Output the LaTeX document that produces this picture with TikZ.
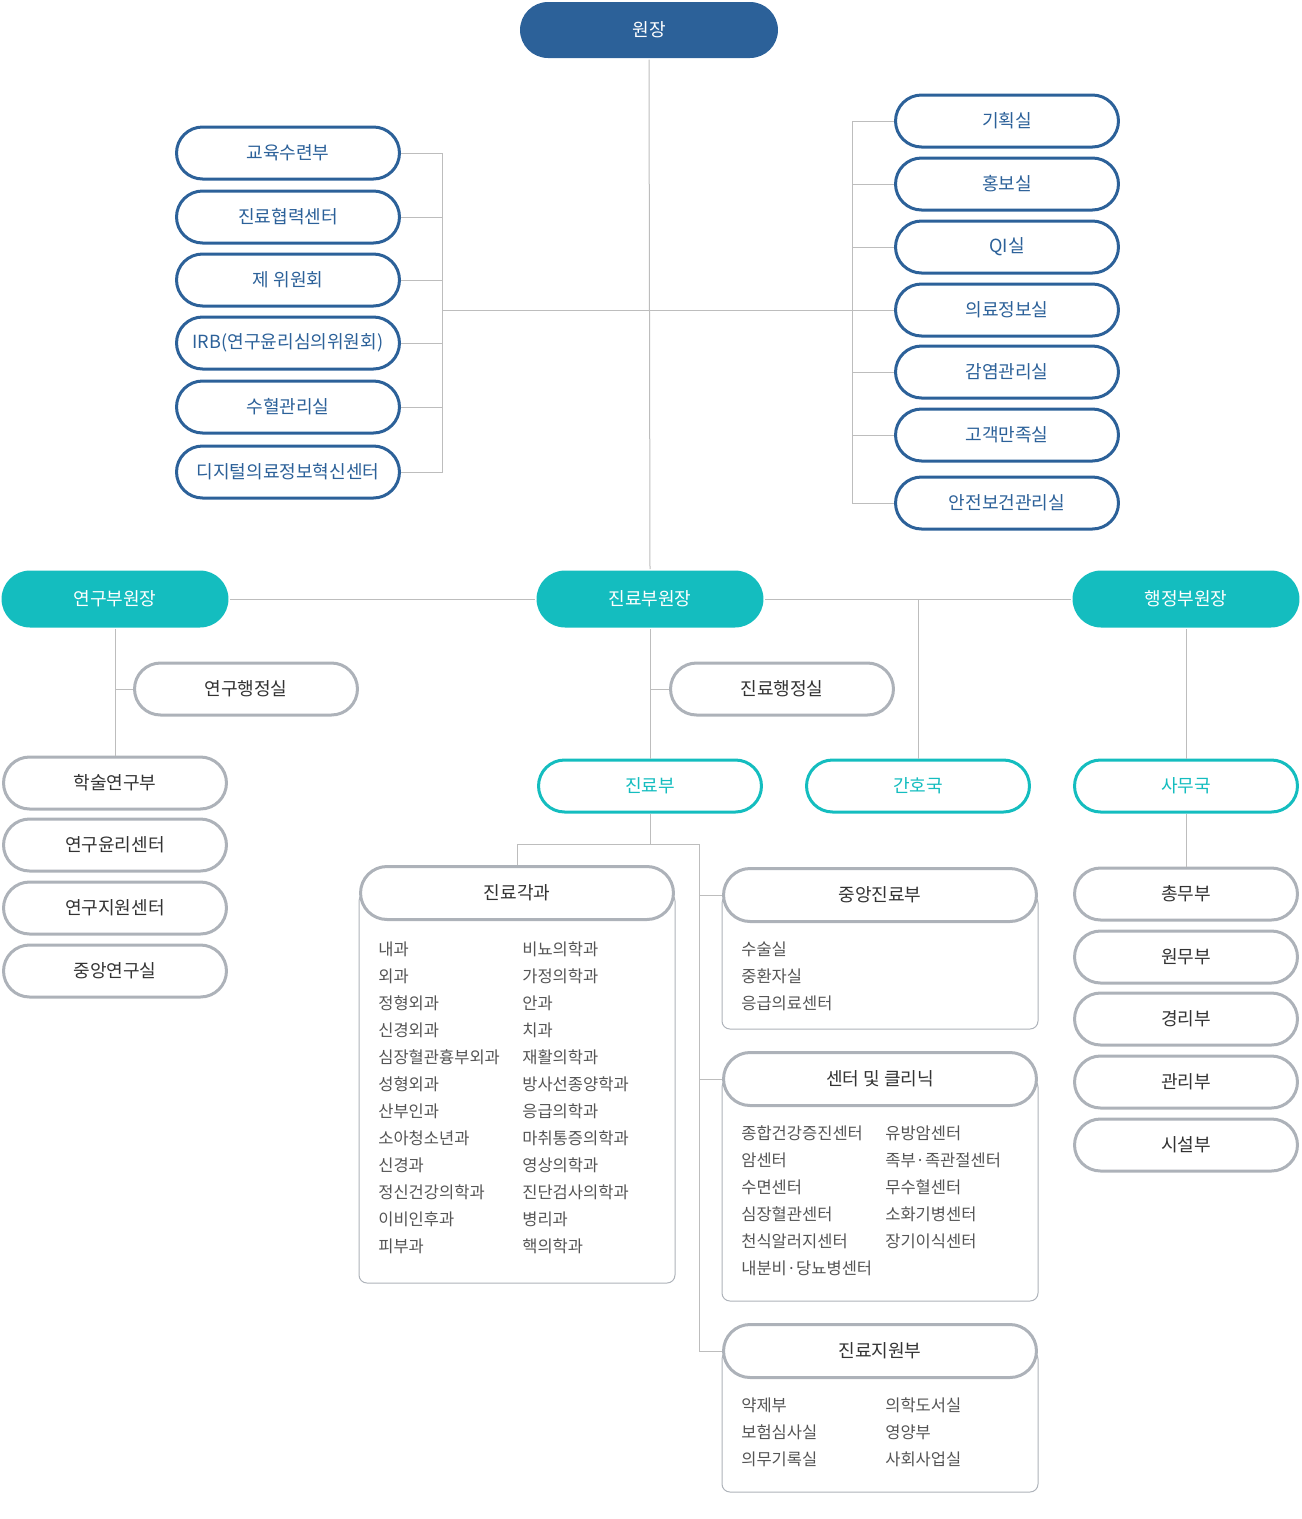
\documentclass[tikz,border=0pt]{standalone}
\usepackage{fontspec}
\setmainfont{Noto Sans CJK KR}
\usetikzlibrary{positioning}
\definecolor{dblue}{HTML}{2C6199}
\definecolor{tl}{HTML}{14BDBF}
\definecolor{pg}{HTML}{ADB2B9}
\definecolor{wg}{HTML}{BDBDBD}
\definecolor{tx}{HTML}{333333}
\definecolor{itx}{HTML}{555555}
\tikzset{
  pill/.style  = { rounded corners=0.52cm, minimum width=4.46cm, minimum height=1.04cm,
    inner sep=0pt, line width=0.06cm, fill=white, font=\fontsize{10.3pt}{12pt}\selectfont },
  bpill/.style = { pill, draw=dblue, text=dblue },
  tpill/.style = { pill, draw=tl, text=tl },
  gpill/.style = { pill, draw=pg, text=tx },
  fpill/.style = { pill, draw=none, fill=#1, text=white, minimum width=4.54cm,
    minimum height=1.14cm, rounded corners=0.57cm },
  hd/.style    = { gpill, minimum width=6.26cm, minimum height=1.06cm, rounded corners=0.53cm },
  pnl/.style   = { draw=pg, line width=0.02cm, rounded corners=0.16cm },
  wire/.style  = { draw=wg, line width=0.02cm },
  itm/.style   = { anchor=west, inner sep=0pt, text=itx, font=\fontsize{9.4pt}{11pt}\selectfont }
}
\begin{document}
\begin{tikzpicture}[x=0.02cm,y=-0.02cm]
    \useasboundingbox (0,0) rectangle (1302,1519);
    % top
    \node[fpill=dblue, minimum width=5.16cm, minimum height=1.12cm, rounded corners=0.56cm] (dir) at (649,30) {원장};
    \node[bpill] (edu) at (288,153) {교육수련부};
    \node[bpill] (coop) at (288,217) {진료협력센터};
    \node[bpill] (comm) at (288,280) {제 위원회};
    \node[bpill] (irb) at (288,343) {IRB(연구윤리심의위원회)};
    \node[bpill] (blood) at (288,407) {수혈관리실};
    \node[bpill] (dig) at (288,472) {디지털의료정보혁신센터};
    \node[bpill] (plan) at (1007,121) {기획실};
    \node[bpill] (pr) at (1007,184) {홍보실};
    \node[bpill] (qi) at (1007,247) {QI실};
    \node[bpill] (info) at (1007,310) {의료정보실};
    \node[bpill] (infc) at (1007,372) {감염관리실};
    \node[bpill] (cs) at (1007,435) {고객만족실};
    \node[bpill] (safe) at (1007,503) {안전보건관리실};
    \coordinate (lb) at (442,310);
    \coordinate (rb) at (852,310);
    % vice directors
    \node[fpill=tl] (vres) at (115,599) {연구부원장};
    \node[fpill=tl] (vmed) at (650,599) {진료부원장};
    \node[fpill=tl] (vadm) at (1186,599) {행정부원장};
    \node[gpill] (roff) at (246,689) {연구행정실};
    \node[gpill] (moff) at (782,689) {진료행정실};
    \node[tpill] (mdiv) at (650,786) {진료부};
    \node[tpill] (nurse) at (918,786) {간호국};
    \node[tpill] (sec) at (1186,786) {사무국};
    \node[gpill] (acad) at (115,783) {학술연구부};
    \node[gpill] (reth) at (115,845) {연구윤리센터};
    \node[gpill] (rsup) at (115,908) {연구지원센터};
    \node[gpill] (rlab) at (115,971) {중앙연구실};
    \node[gpill] (gen) at (1186,894) {총무부};
    \node[gpill] (pat) at (1186,957) {원무부};
    \node[gpill] (acc) at (1186,1019) {경리부};
    \node[gpill] (mgt) at (1186,1082) {관리부};
    \node[gpill] (fac) at (1186,1145) {시설부};
    % panels
    \draw[pnl] (359,893) rectangle (675,1283);
    \draw[pnl] (722,895) rectangle (1038,1029);
    \draw[pnl] (722,1079) rectangle (1038,1301);
    \draw[pnl] (722,1351) rectangle (1038,1492);
    \node[hd] (dhd) at (517,893) {진료각과};
    \node[hd] (chd) at (880,895) {중앙진료부};
    \node[hd] (khd) at (880,1079) {센터 및 클리닉};
    \node[hd] (shd) at (880,1351) {진료지원부};
    \foreach \t [count=\i] in {내과,외과,정형외과,신경외과,심장혈관흉부외과,성형외과,산부인과,소아청소년과,신경과,정신건강의학과,이비인후과,피부과}
      \node[itm] (da\i) at (378,922+27*\i) {\t};
    \foreach \t [count=\i] in {비뇨의학과,가정의학과,안과,치과,재활의학과,방사선종양학과,응급의학과,마취통증의학과,영상의학과,진단검사의학과,병리과,핵의학과}
      \node[itm] (db\i) at (522,922+27*\i) {\t};
    \foreach \t [count=\i] in {수술실,중환자실,응급의료센터}
      \node[itm] (ca\i) at (741,922+27*\i) {\t};
    \foreach \t [count=\i] in {종합건강증진센터,암센터,수면센터,심장혈관센터,천식알러지센터,내분비·당뇨병센터}
      \node[itm] (ka\i) at (741,1106+27*\i) {\t};
    \foreach \t [count=\i] in {유방암센터,족부·족관절센터,무수혈센터,소화기병센터,장기이식센터}
      \node[itm] (kb\i) at (885,1106+27*\i) {\t};
    \foreach \t [count=\i] in {약제부,보험심사실,의무기록실}
      \node[itm] (sa\i) at (741,1378+27*\i) {\t};
    \foreach \t [count=\i] in {의학도서실,영양부,사회사업실}
      \node[itm] (sb\i) at (885,1378+27*\i) {\t};
    \coordinate (sp) at (699,844);
    % connectors
    \path[wire] (dir.south) -- (vmed.north);
    \path[wire] (edu.east) -- (edu.east -| lb) -- (dig.east -| lb) -- (dig.east);
    \foreach \n in {coop,comm,irb,blood}
      \path[wire] (\n.east) -- (\n.east -| lb);
    \path[wire] (lb) -- (info.west);
    \path[wire] (plan.west) -- (plan.west -| rb) -- (safe.west -| rb) -- (safe.west);
    \foreach \n in {pr,qi,infc,cs}
      \path[wire] (\n.west) -- (\n.west -| rb);
    \path[wire] (vres.east) -- (vmed.west);
    \path[wire] (vmed.east) -- (vadm.west);
    \path[wire] (vres.south) -- (vres.south |- acad.north);
    \path[wire] (roff.west) -- (roff.west -| vres.south);
    \path[wire] (vmed.south) -- (mdiv.north);
    \path[wire] (moff.west) -- (moff.west -| vmed.south);
    \path[wire] (nurse.north) -- (nurse.north |- vmed.east);
    \path[wire] (vadm.south) -- (sec.north);
    \path[wire] (sec.south) -- (gen.north);
    \path[wire] (mdiv.south) -- (mdiv.south |- sp);
    \path[wire] (dhd.north) |- (sp) -- (sp |- shd.west) -- (shd.west);
    \path[wire] (chd.west) -- (chd.west -| sp);
    \path[wire] (khd.west) -- (khd.west -| sp);
\end{tikzpicture}
\end{document}
